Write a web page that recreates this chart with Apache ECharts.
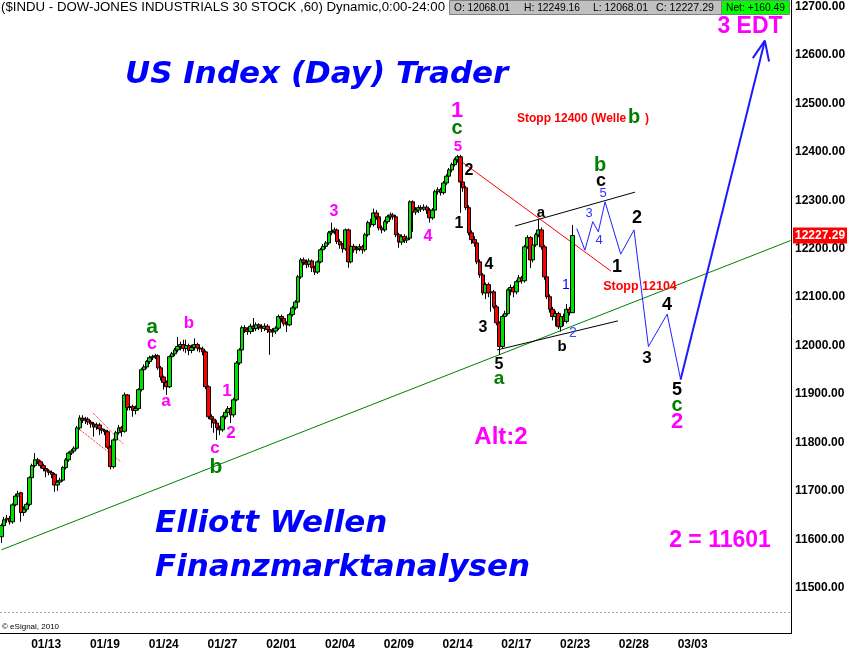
<!DOCTYPE html>
<html>
<head>
<meta charset="utf-8">
<title>$INDU 60 - Elliott Wellen</title>
<script src="https://cdn.jsdelivr.net/npm/echarts@6/dist/echarts.min.js"></script>
<style>
  html, body { margin: 0; padding: 0; background: #fff; }
  #chart { width: 847px; height: 651px; }
</style>
</head>
<body>
<div id="chart"></div>
<script>
// hourly bars (60 min)
const opens = [
  11605,11628,11640,11643,11636,11671,11689,11696,11655,11662,
  11672,11727,11752,11764,11760,11752,11746,11741,11738,11734,
  11712,11718,11722,11748,11764,11778,11782,11788,11830,11850,
  11846,11848,11842,11838,11832,11836,11828,11825,11822,11790,
  11750,11805,11820,11830,11823,11898,11872,11874,11866,11870,
  11909,11950,11956,11967,11975,11977,11979,11954,11935,11924,
  11915,11977,11983,11991,11998,12002,11994,12000,11990,11996,
  12002,11995,11993,11987,11915,11853,11848,11840,11830,11826,
  11853,11862,11870,11857,11888,11964,11991,12037,12033,12029,
  12040,12035,12043,12038,12036,12040,12033,12028,12030,12036,
  12060,12056,12045,12043,12064,12078,12090,12142,12177,12172,
  12168,12175,12161,12152,12173,12198,12205,12212,12233,12236,
  12239,12215,12208,12200,12239,12173,12205,12198,12200,12204,
  12198,12229,12254,12250,12274,12266,12243,12239,12256,12266,
  12270,12266,12229,12214,12225,12218,12222,12297,12276,12280,
  12285,12282,12286,12280,12264,12280,12318,12322,12316,12336,
  12350,12363,12374,12384,12390,12338,12326,12285,12233,12219,
  12212,12173,12146,12109,12126,12109,12111,12080,12047,11998,
  12060,12066,12115,12120,12111,12132,12140,12134,12204,12223,
  12177,12208,12229,12239,12204,12142,12101,12075,12060,12066,
  12039,12060,12050,12075,12068.01
];
const closes = [
  11628,11640,11643,11636,11671,11689,11694,11655,11662,11672,
  11727,11752,11764,11760,11752,11746,11741,11738,11734,11712,
  11718,11722,11748,11764,11778,11782,11788,11830,11850,11846,
  11848,11842,11838,11832,11836,11828,11825,11822,11790,11750,
  11805,11820,11830,11823,11898,11872,11874,11866,11870,11909,
  11950,11956,11967,11975,11977,11979,11954,11935,11924,11915,
  11977,11983,11991,11998,12002,11994,12000,11990,11996,12002,
  11995,11993,11987,11915,11853,11848,11840,11830,11826,11853,
  11862,11870,11857,11888,11964,11991,12037,12033,12029,12040,
  12035,12043,12038,12036,12040,12033,12028,12030,12036,12060,
  12056,12045,12043,12064,12078,12090,12142,12177,12172,12168,
  12175,12161,12152,12173,12198,12205,12212,12233,12236,12239,
  12215,12208,12200,12239,12173,12205,12198,12200,12204,12198,
  12229,12254,12250,12274,12266,12243,12239,12256,12266,12270,
  12266,12229,12214,12225,12218,12222,12297,12276,12280,12285,
  12282,12286,12280,12264,12280,12318,12322,12316,12336,12350,
  12363,12374,12384,12390,12338,12326,12285,12233,12219,12212,
  12173,12146,12109,12126,12109,12111,12080,12047,11998,12060,
  12066,12115,12120,12111,12132,12140,12134,12204,12223,12177,
  12208,12229,12239,12204,12142,12101,12075,12060,12066,12039,
  12060,12050,12075,12068,12227.29
];
const lows = [
  11592,11622,11634,11630,11632,11668,11684,11636,11648,11657,
  11668,11722,11748,11755,11746,11740,11728,11732,11726,11698,
  11700,11712,11719,11744,11760,11774,11778,11785,11826,11840,
  11838,11836,11830,11812,11826,11815,11818,11815,11786,11744,
  11746,11800,11816,11812,11820,11866,11866,11853,11858,11866,
  11905,11945,11952,11962,11970,11972,11950,11928,11909,11898,
  11912,11972,11978,11986,11990,11988,11985,11980,11984,11990,
  11988,11986,11980,11910,11848,11830,11820,11805,11815,11822,
  11848,11855,11840,11852,11885,11960,11988,12026,12022,12024,
  12028,12030,12032,12028,12030,12026,11981,12018,12024,12032,
  12048,12040,12028,12040,12060,12074,12086,12138,12166,12160,
  12162,12152,12146,12148,12170,12194,12200,12208,12228,12230,
  12210,12200,12192,12196,12161,12170,12192,12190,12195,12190,
  12194,12225,12244,12246,12260,12238,12232,12235,12252,12260,
  12260,12224,12202,12208,12212,12212,12218,12235,12270,12274,
  12276,12278,12272,12254,12260,12276,12312,12310,12312,12332,
  12346,12358,12370,12378,12274,12318,12280,12228,12210,12204,
  12168,12140,12104,12096,12100,12070,12076,12042,11981,11994,
  12054,12062,12104,12100,12106,12128,12128,12130,12200,12160,
  12172,12204,12224,12198,12136,12096,12068,12052,12040,12034,
  12029,12040,12046,12062,12068.01
];
const highs = [
  11632,11646,11650,11648,11674,11694,11700,11698,11668,11676,
  11730,11756,11778,11768,11763,11756,11749,11745,11742,11737,
  11722,11727,11751,11768,11781,11786,11792,11834,11856,11856,
  11853,11852,11846,11842,11841,11840,11834,11828,11826,11794,
  11808,11824,11836,11834,11903,11900,11882,11878,11876,11912,
  11954,11961,11970,11979,11981,11983,11982,11958,11938,11928,
  11980,11987,11995,12018,12008,12012,12012,12004,12002,12015,
  12006,12000,11998,11990,11918,11858,11852,11846,11835,11856,
  11868,11875,11873,11892,11968,11995,12041,12042,12038,12045,
  12057,12048,12046,12044,12046,12044,12038,12036,12040,12064,
  12064,12060,12050,12068,12082,12094,12146,12181,12182,12178,
  12180,12178,12165,12176,12202,12210,12216,12237,12254,12244,
  12242,12220,12212,12242,12242,12209,12210,12206,12210,12208,
  12233,12258,12262,12283,12280,12270,12248,12260,12270,12275,
  12274,12270,12233,12230,12230,12227,12300,12300,12286,12290,
  12290,12292,12290,12284,12284,12322,12327,12326,12340,12354,
  12367,12378,12388,12394,12394,12342,12330,12290,12238,12226,
  12216,12178,12150,12130,12130,12116,12115,12084,12050,12064,
  12072,12118,12126,12124,12136,12146,12144,12208,12228,12226,
  12212,12233,12260,12244,12208,12146,12106,12080,12072,12070,
  12064,12066,12086,12080,12249.16
];

// date labels under the chart and the bar slot they sit on
const tickIdx = [16, 37, 58, 79, 100, 121, 142, 163, 184, 205, 226, 247];
const tickLabels = ['01/13', '01/19', '01/24', '01/27', '02/01', '02/04',
                    '02/09', '02/14', '02/17', '02/23', '02/28', '03/03'];

// drawn lines, as [bar slot, price]
const supportLine = [[0, 11578], [282, 12217]];
const channelTop = [[183.5, 12247], [226.4, 12317]];
const channelBottom = [[177.1, 11991], [220.3, 12051]];
const downLine = [[164.2, 12381], [217.8, 12154]];
const flagTop = [[32.7, 11861], [43.5, 11797]];
const flagBottom = [[28.1, 11826], [42.7, 11760]];
const projection = [[205.6, 12242], [208.5, 12197], [211.3, 12256], [213.3, 12235],
                    [215.7, 12297], [221.3, 12189], [226.05, 12239], [231.2, 11998],
                    [237.9, 12065], [242.7, 11930]];
const projectionUp = [[242.7, 11930], [272.8, 12630]];
const arrowHead = [[268.5, 12594], [272.8, 12630], [274.3, 12587]];

const header = {
  title: '($INDU - DOW-JONES INDUSTRIALS 30 STOCK ,60) Dynamic,0:00-24:00',
  open: 'O: 12068.01', high: 'H: 12249.16', low: 'L: 12068.01', close: 'C: 12227.29',
  net: 'Net: +160.49'
};
const lastClose = closes[closes.length - 1];

const SLOTS = 283;
const ARIAL = "'Liberation Sans', Arial, sans-serif";
const categories = Array.from({ length: SLOTS }, (_, i) => String(i));
const candleData = opens.map((o, i) => [o, closes[i], lows[i], highs[i]]);

const chart = echarts.init(document.getElementById('chart'));

const drawLine = (data, color, width, type) => ({
  type: 'line',
  xAxisIndex: 1,
  yAxisIndex: 0,
  data: data,
  symbol: 'none',
  silent: true,
  animation: false,
  z: 3,
  lineStyle: { color: color, width: width, type: type || 'solid' }
});

chart.setOption({
  animation: false,
  backgroundColor: '#fff',
  grid: { left: 0, right: 55, top: 0, bottom: 15, outerBoundsMode: 'none' },
  xAxis: [
    {
      type: 'category',
      data: categories,
      boundaryGap: true,
      axisLine: { show: false },
      axisTick: { show: false },
      splitLine: { show: false },
      axisLabel: {
        interval: (idx) => tickIdx.includes(idx),
        formatter: (v) => tickLabels[tickIdx.indexOf(+v)] || '',
        color: '#000',
        fontWeight: 'bold',
        fontSize: 12,
        fontFamily: ARIAL,
        margin: 3
      }
    },
    { type: 'value', min: -0.5, max: SLOTS - 0.5, show: false }
  ],
  yAxis: {
    type: 'value',
    position: 'right',
    min: 11400,
    max: 12714,
    interval: 100,
    axisLine: { show: false },
    axisTick: { show: false },
    splitLine: { show: false },
    axisLabel: {
      showMinLabel: false,
      formatter: (v) => (v % 100 === 0 ? v.toFixed(2) : ''),
      color: '#000',
      fontWeight: 'bold',
      fontSize: 12,
      fontFamily: ARIAL,
      margin: 3
    }
  },
  series: [
    {
      type: 'candlestick',
      data: candleData,
      barWidth: 4,
      silent: true,
      z: 4,
      itemStyle: {
        color: '#00e000',
        color0: '#ff0000',
        borderColor: '#000',
        borderColor0: '#000',
        borderColorDoji: '#000',
        borderWidth: 1
      }
    },
    drawLine(supportLine, '#008000', 1),
    drawLine(channelTop, '#000', 1),
    drawLine(channelBottom, '#000', 1),
    drawLine(downLine, '#ff0000', 1),
    drawLine(flagTop, '#ff0000', 1, 'dotted'),
    drawLine(flagBottom, '#ff0000', 1, 'dotted'),
    drawLine(projection, '#2020ff', 1),
    drawLine(projectionUp, '#1a1aff', 2),
    drawLine(arrowHead, '#1a1aff', 2)
  ]
});

// ---- overlay: header, frame, texts ----
const ctx = document.createElement('canvas').getContext('2d');
const fit = (text, font, width) => {
  ctx.font = font;
  return width / ctx.measureText(text).width;
};

const txt = (text, x, y, color, font, align, extra) => Object.assign({
  type: 'text',
  x: x,
  y: y,
  silent: true,
  z: 100,
  style: { text: text, x: 0, y: 0, fill: color, font: font,
           textAlign: align || 'center', textVerticalAlign: 'middle' }
}, extra || {});

const hLine = (x1, x2, y, color, dash) => ({
  type: 'line', silent: true, z: 90,
  shape: { x1: x1, y1: y, x2: x2, y2: y },
  style: { stroke: color, lineWidth: 1, lineDash: dash || null }
});

const wave = (t, x, y, color, size, weight) =>
  txt(t, x, y, color, (weight || 'bold') + ' ' + size + 'px ' + ARIAL);

const MAG = '#ff00ff', GRN = '#008000', BLK = '#000';
const waveLabels = [
  wave('a', 152, 327, GRN, 21), wave('c', 152, 344, MAG, 18),
  wave('b', 189, 323, MAG, 17), wave('a', 166, 401, MAG, 17),
  wave('1', 227, 391, MAG, 17), wave('2', 231, 433, MAG, 17),
  wave('c', 215, 448, MAG, 17), wave('b', 216, 467, GRN, 21),
  wave('3', 334, 212, MAG, 16), wave('4', 428, 237, MAG, 16),
  wave('1', 457, 111, MAG, 22), wave('c', 457, 128, GRN, 20),
  wave('5', 458, 147, MAG, 15),
  wave('2', 469, 171, BLK, 16), wave('1', 459, 224, BLK, 16),
  wave('4', 489, 265, BLK, 16), wave('3', 483, 328, BLK, 16),
  wave('5', 499, 365, BLK, 16), wave('a', 499, 379, GRN, 19),
  wave('a', 541, 213, BLK, 15),
  wave('b', 600, 165, GRN, 20), wave('c', 601, 181, BLK, 18),
  wave('5', 603, 193, '#3333ff', 13, 'normal'),
  wave('3', 589, 213, '#3333ff', 13, 'normal'),
  wave('4', 599, 240, '#3333ff', 13, 'normal'),
  wave('1', 566, 285, '#0000ff', 14, 'normal'),
  wave('2', 573, 333, '#3050ff', 14, 'normal'),
  wave('b', 562, 347, BLK, 15),
  wave('2', 637, 218, BLK, 18), wave('1', 617, 267, BLK, 18),
  wave('4', 667, 305, BLK, 18), wave('3', 647, 358, BLK, 17),
  wave('5', 677, 390, BLK, 18), wave('c', 677, 405, GRN, 20),
  wave('2', 677, 422, MAG, 22)
];

const titleFont = "italic bold 31px 'DejaVu Sans', Verdana, sans-serif";
const tagY = chart.convertToPixel({ yAxisIndex: 0 }, lastClose);
const headFont = '13px ' + ARIAL;
const boxFont = '11px ' + ARIAL;

const graphics = [
  // frame
  { type: 'line', silent: true, z: 90, shape: { x1: 791.5, y1: 0, x2: 791.5, y2: 633.5 },
    style: { stroke: '#000', lineWidth: 1 } },
  hLine(0, 792, 633.5, '#000'),
  hLine(0, 790, 612.5, '#a8a0b4', [2, 2]),
  txt('\u00a9 eSignal, 2010', 2, 627, '#000', '8px ' + ARIAL, 'left'),

  // header line
  txt(header.title, 1, 7.5, '#000', headFont, 'left', { scaleX: fit(header.title, headFont, 444) }),
  { type: 'rect', silent: true, z: 95, shape: { x: 449.5, y: 0.5, width: 272, height: 14 },
    style: { fill: '#c0c0c0', stroke: '#808080', lineWidth: 1 } },
  txt(header.open, 454, 7.5, '#000', boxFont, 'left', { scaleX: fit(header.open, boxFont, 56), z: 101 }),
  txt(header.high, 524, 7.5, '#000', boxFont, 'left', { scaleX: fit(header.high, boxFont, 56), z: 101 }),
  txt(header.low, 593, 7.5, '#000', boxFont, 'left', { scaleX: fit(header.low, boxFont, 55), z: 101 }),
  txt(header.close, 656, 7.5, '#000', boxFont, 'left', { scaleX: fit(header.close, boxFont, 58), z: 101 }),
  { type: 'rect', silent: true, z: 95, shape: { x: 721.5, y: 0.5, width: 68, height: 14 },
    style: { fill: '#00ff00', stroke: '#808080', lineWidth: 1 } },
  txt(header.net, 726, 7.5, '#000', boxFont, 'left', { scaleX: fit(header.net, boxFont, 59), z: 101 }),

  // last price tag on the scale
  { type: 'rect', silent: true, z: 95, shape: { x: 793, y: tagY - 8, width: 54, height: 16 },
    style: { fill: '#ff0000' } },
  txt(lastClose.toFixed(2), 795, tagY, '#fff', 'bold 12px ' + ARIAL, 'left', { z: 101 }),

  // titles and notes
  txt('US Index (Day) Trader', 125, 75, '#0000ff', titleFont, 'left'),
  txt('Elliott Wellen', 155, 524, '#0000ff', titleFont, 'left'),
  txt('Finanzmarktanalysen', 155, 568, '#0000ff', titleFont, 'left'),
  txt('3 EDT', 750, 27, MAG, 'bold 23px ' + ARIAL),
  txt('2 = 11601', 720, 541, MAG, 'bold 23px ' + ARIAL),
  txt('Alt:2', 501, 437, MAG, 'bold 24px ' + ARIAL),
  txt('Stopp 12400 (Welle', 517, 119, '#ff0000', 'bold 12px ' + ARIAL, 'left'),
  txt('b', 634, 117, GRN, 'bold 20px ' + ARIAL),
  txt(')', 645, 119, '#ff0000', 'bold 12px ' + ARIAL, 'left'),
  txt('Stopp 12104', 640, 287, '#ff0000', 'bold 12.5px ' + ARIAL)
].concat(waveLabels);

chart.setOption({ graphic: graphics });
</script>
</body>
</html>
